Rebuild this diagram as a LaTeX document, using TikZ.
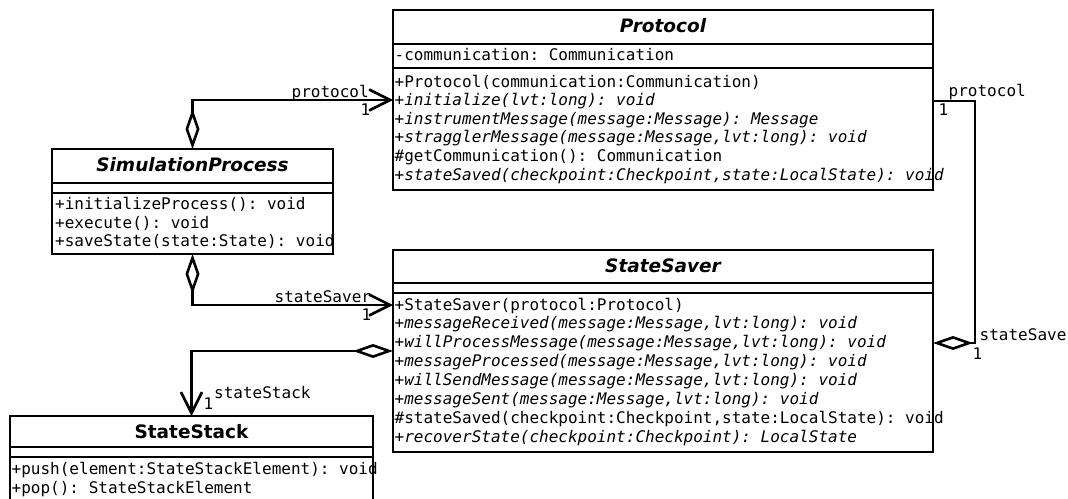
\documentclass[tikz,border=0pt]{standalone}
\usepackage{fontspec}
\setmainfont{DejaVu Sans}
\setsansfont{DejaVu Sans}
\setmonofont{DejaVu Sans Mono}
\usetikzlibrary{arrows.meta}

\tikzset{
  classbox/.style={draw=black, line width=2.8pt, inner sep=0pt, outer sep=0pt, anchor=north west},
  sepline/.style={draw=black, line width=2.8pt},
  ctitle/.style={anchor=base, inner sep=0pt, font=\fontsize{18.5}{22}\selectfont\sffamily\bfseries\itshape},
  ctitleup/.style={anchor=base, inner sep=0pt, font=\fontsize{18.5}{22}\selectfont\sffamily\bfseries},
  member/.style={anchor=base west, inner sep=0pt, font=\fontsize{16}{19}\selectfont\ttfamily},
  amember/.style={anchor=base west, inner sep=0pt, font=\fontsize{16}{19}\selectfont\ttfamily\itshape},
  rolelbl/.style={anchor=base west, inner sep=0pt, font=\fontsize{16}{19}\selectfont\ttfamily},
  link/.style={draw=black, line width=2.6pt, line join=miter},
  agg/.style={link, {Diamond[fill=white, length=40pt, width=14pt, line width=2.6pt]}-{Straight Barb[length=21pt, width=21pt, line width=2.6pt]}},
  aggonly/.style={link, {Diamond[fill=white, length=40pt, width=14pt, line width=2.6pt]}-},
}

\begin{document}
\begin{tikzpicture}[x=1pt, y=-1pt]
\useasboundingbox (0,0) rectangle (1068,498);
\clip (0,0) rectangle (1068,498);

% ---------- Protocol ----------
\node[classbox, minimum width=540pt, minimum height=180pt] (proto) at (393,10) {};
\node[ctitle] (proto-t) at (663,32.5) {Protocol};
\node[member]  (proto-a1) at (394.5,60)    {-communication: Communication};
\node[member]  (proto-m1) at (394.5,87)    {+Protocol(communication:Communication)};
\node[amember] (proto-m2) at (394.5,105.6) {+initialize(lvt:long): void};
\node[amember] (proto-m3) at (394.5,124.2) {+instrumentMessage(message:Message): Message};
\node[amember] (proto-m4) at (394.5,142.8) {+stragglerMessage(message:Message,lvt:long): void};
\node[member]  (proto-m5) at (394.5,161.4) {\#getCommunication(): Communication};
\node[amember] (proto-m6) at (394.5,180)   {+stateSaved(checkpoint:Checkpoint,state:LocalState): void};
\draw[sepline] (393,44) -- (933,44);
\draw[sepline] (393,68) -- (933,68);
\draw[sepline] (proto.north west) rectangle (proto.south east);

% ---------- SimulationProcess ----------
\node[classbox, minimum width=281pt, minimum height=105pt] (sim) at (52,149) {};
\node[ctitle] (sim-t) at (192.5,171.7) {SimulationProcess};
\begin{scope}
  \clip (52,193) rectangle (331.5,254);
  \node[member] (sim-m1) at (55,209)   {+initializeProcess(): void};
  \node[member] (sim-m2) at (55,228)   {+execute(): void};
  \node[member] (sim-m3) at (55,246.7) {+saveState(state:State): void};
\end{scope}
\draw[sepline] (52,183) -- (333,183);
\draw[sepline] (52,193) -- (333,193);
\draw[sepline] (sim.north west) rectangle (sim.south east);

% ---------- StateSaver ----------
\node[classbox, minimum width=540pt, minimum height=202pt] (saver) at (393,250) {};
\node[ctitle] (saver-t) at (663,272.5) {StateSaver};
\node[member]  (saver-m1) at (394.5,310)    {+StateSaver(protocol:Protocol)};
\node[amember] (saver-m2) at (394.5,328.85) {+messageReceived(message:Message,lvt:long): void};
\node[amember] (saver-m3) at (394.5,347.7)  {+willProcessMessage(message:Message,lvt:long): void};
\node[amember] (saver-m4) at (394.5,366.55) {+messageProcessed(message:Message,lvt:long): void};
\node[amember] (saver-m5) at (394.5,385.4)  {+willSendMessage(message:Message,lvt:long): void};
\node[amember] (saver-m6) at (394.5,404.25) {+messageSent(message:Message,lvt:long): void};
\node[member]  (saver-m7) at (394.5,423.1)  {\#stateSaved(checkpoint:Checkpoint,state:LocalState): void};
\node[amember] (saver-m8) at (394.5,442)    {+recoverState(checkpoint:Checkpoint): LocalState};
\draw[sepline] (393,283) -- (933,283);
\draw[sepline] (393,293) -- (933,293);
\draw[sepline] (saver.north west) rectangle (saver.south east);

% ---------- StateStack ----------
\node[classbox, minimum width=363pt, minimum height=120pt] (stack) at (10,416) {};
\node[ctitleup] (stack-t) at (191.5,438) {StateStack};
\node[member] (stack-m1) at (11.5,474.5) {+push(element:StateStackElement): void};
\node[member] (stack-m2) at (11.5,493)   {+pop(): StateStackElement};
\draw[sepline] (10,447) -- (373,447);
\draw[sepline] (10,457) -- (373,457);
\draw[sepline] (stack.north west) rectangle (stack.south east);

% ---------- associations ----------
\draw[agg] (sim.north) |- (proto.west |- 0,100);
\node[rolelbl] (l-proto)  at (291.5,97)  {protocol};
\node[rolelbl] (l-proto1) at (360.5,115) {1};

\draw[agg] (sim.south) |- (saver.west |- 0,305);
\node[rolelbl] (l-saver)  at (274.5,302) {stateSaver};
\node[rolelbl] (l-saver1) at (361.5,320.5) {1};

\draw[agg] (saver.west |- 0,351) -| (stack.north);
\node[rolelbl] (l-stack)  at (214,398) {stateStack};
\node[rolelbl] (l-stack1) at (203.5,409) {1};

\draw[aggonly] (saver.east |- 0,343) -- ++(42,0) |- (proto.east |- 0,101);
\node[rolelbl] (r-proto)  at (948.5,96.7) {protocol};
\node[rolelbl] (r-proto1) at (938.5,115)  {1};
\node[rolelbl] (r-saver)  at (979.5,340.7) {stateSave};
\node[rolelbl] (r-saver1) at (972.5,359)  {1};
\end{tikzpicture}
\end{document}
